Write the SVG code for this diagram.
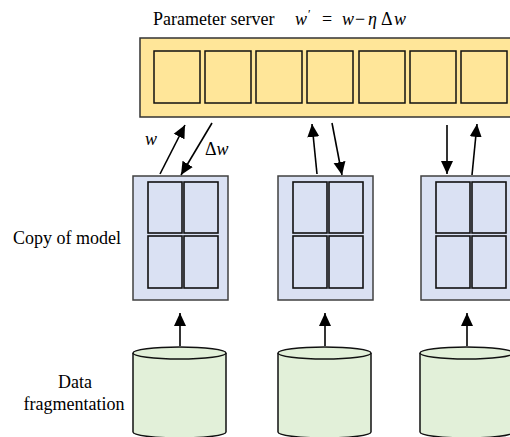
<svg xmlns="http://www.w3.org/2000/svg" width="510" height="437" viewBox="0 0 510 437">
<style>
.t{font-family:"Liberation Serif","Times New Roman",serif;font-size:18px;fill:#000}
.i{font-style:italic}
.srv{fill:#FFE699;stroke:#333;stroke-width:1.5}
.cell{fill:#FFE699;stroke:#111;stroke-width:1.5}
.mdl{fill:#DAE1F3;stroke:#404040;stroke-width:1.5}
.mcell{fill:#DAE1F3;stroke:#111;stroke-width:1.6}
.cyl{fill:#E2F0D9;stroke:#111;stroke-width:1.5}
.ln{stroke:#000;stroke-width:1.6;fill:none;marker-end:url(#ah)}
</style>
<defs>
<marker id="ah" markerUnits="userSpaceOnUse" markerWidth="14" markerHeight="14" viewBox="0 0 14 14" refX="13" refY="7" orient="auto">
<path d="M0,1 L13,7 L0,13 Z" fill="#000"/>
</marker>
</defs>
<rect width="510" height="437" fill="#fff"/>

<g id="labels">
<text class="t" x="153" y="25">Parameter server</text>
<text class="t" x="295" y="25"><tspan class="i">w</tspan><tspan x="308" y="18" font-size="12">′</tspan><tspan x="322" y="25">=</tspan><tspan class="i" x="342">w</tspan><tspan x="355">−</tspan><tspan class="i" x="368">η</tspan><tspan x="381">Δ</tspan><tspan class="i" x="394">w</tspan></text>
<text class="t" x="13" y="244">Copy of model</text>
<text class="t" x="75" y="388" text-anchor="middle">Data</text>
<text class="t" x="74" y="410" text-anchor="middle">fragmentation</text>
<text class="t i" x="145" y="145">w</text>
<text class="t" x="205" y="155">Δ<tspan class="i">w</tspan></text>
</g>

<g id="server">
<rect class="srv" x="140" y="38" width="380" height="79"/>
<rect class="cell" x="154" y="51" width="46" height="52"/>
<rect class="cell" x="205" y="51" width="46" height="52"/>
<rect class="cell" x="256" y="51" width="46" height="52"/>
<rect class="cell" x="307" y="51" width="46" height="52"/>
<rect class="cell" x="359" y="51" width="46" height="52"/>
<rect class="cell" x="410" y="51" width="46" height="52"/>
<rect class="cell" x="461" y="51" width="46" height="52"/>
</g>

<g id="model1">
<rect class="mdl" x="133" y="176" width="95" height="124"/>
<rect class="mcell" x="148" y="182" width="34" height="51"/>
<rect class="mcell" x="184" y="182" width="34" height="51"/>
<rect class="mcell" x="148" y="236" width="34" height="52"/>
<rect class="mcell" x="184" y="236" width="34" height="52"/>
</g>
<g id="model2">
<rect class="mdl" x="278" y="176" width="95" height="124"/>
<rect class="mcell" x="293" y="182" width="34" height="51"/>
<rect class="mcell" x="329" y="182" width="34" height="51"/>
<rect class="mcell" x="293" y="236" width="34" height="52"/>
<rect class="mcell" x="329" y="236" width="34" height="52"/>
</g>
<g id="model3">
<rect class="mdl" x="421" y="176" width="95" height="124"/>
<rect class="mcell" x="436" y="182" width="34" height="51"/>
<rect class="mcell" x="472" y="182" width="34" height="51"/>
<rect class="mcell" x="436" y="236" width="34" height="52"/>
<rect class="mcell" x="472" y="236" width="34" height="52"/>
</g>

<g id="data1">
<path class="cyl" d="M133,353 L133,432 A46.5,6 0 0 0 226,432 L226,353"/>
<ellipse class="cyl" cx="179.5" cy="353" rx="46.5" ry="6"/>
</g>
<g id="data2">
<path class="cyl" d="M278,353 L278,432 A46.5,6 0 0 0 371,432 L371,353"/>
<ellipse class="cyl" cx="324.5" cy="353" rx="46.5" ry="6"/>
</g>
<g id="data3">
<path class="cyl" d="M420,353 L420,432 A46.5,6 0 0 0 513,432 L513,353"/>
<ellipse class="cyl" cx="466.5" cy="353" rx="46.5" ry="6"/>
</g>

<g id="connectors">
<line class="ln" x1="160" y1="174" x2="185" y2="125"/>
<line class="ln" x1="212" y1="123" x2="181" y2="175"/>
<line class="ln" x1="317" y1="174" x2="312" y2="124"/>
<line class="ln" x1="332" y1="123" x2="342" y2="175"/>
<line class="ln" x1="447" y1="125" x2="447" y2="174"/>
<line class="ln" x1="472" y1="175" x2="477" y2="124"/>
<line class="ln" x1="180" y1="346" x2="180" y2="313"/>
<line class="ln" x1="325" y1="346" x2="325" y2="313"/>
<line class="ln" x1="467" y1="346" x2="467" y2="313"/>
</g>
</svg>
